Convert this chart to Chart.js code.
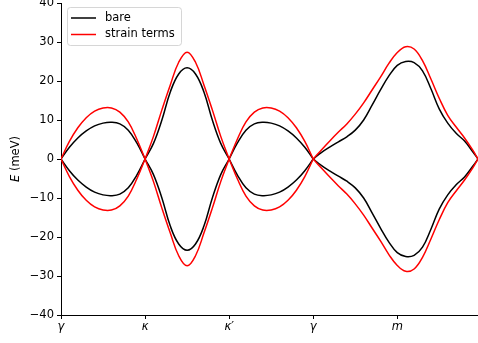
<!DOCTYPE html>
<html>
<head>
<meta charset="utf-8">
<script src="https://cdn.jsdelivr.net/npm/chart.js@4.4.0/dist/chart.umd.min.js"></script>
<style>
  html, body { margin: 0; padding: 0; background: #fff; }
  canvas { display: block; }
</style>
</head>
<body>
<canvas id="bands" width="478" height="343"></canvas>
<script>
// path coordinate along gamma - kappa - kappa' - gamma - m
const kPath = [
    0, 0.1, 0.2, 0.3, 0.4, 0.5, 0.6, 0.7, 0.8, 0.9, 1.0,
    1.1, 1.2, 1.3, 1.4, 1.5, 1.6, 1.7, 1.8, 1.9, 2.0,
    2.1, 2.2, 2.3, 2.4, 2.5, 2.6, 2.7, 2.8, 2.9, 3.0,
    3.1, 3.2, 3.3, 3.4, 3.5, 3.6, 3.7, 3.8, 3.9, 4.0,
    4.1, 4.2, 4.3, 4.4, 4.5, 4.6, 4.7, 4.8, 4.9, 4.96
];

// bands in meV
const bareUpper = [
    0, 3.0, 5.4, 7.2, 8.5, 9.2, 9.4, 9.0, 7.4, 4.2, 0,
    4.0, 10.0, 17.2, 21.8, 23.4, 21.8, 17.2, 10.0, 4.0, 0,
    4.2, 7.4, 9.0, 9.4, 9.2, 8.5, 7.2, 5.4, 3.0, 0,
    1.7, 3.1, 4.4, 5.7, 7.4, 10.0, 13.8, 17.7, 21.3, 24.0,
    25.0, 24.7, 22.6, 18.0, 12.8, 9.2, 6.6, 4.6, 1.8, 0
];
const bareLower = [
    0, -3.0, -5.4, -7.2, -8.5, -9.2, -9.4, -9.0, -7.4, -4.2, 0,
    -4.0, -10.0, -17.2, -21.8, -23.4, -21.8, -17.2, -10.0, -4.0, 0,
    -4.2, -7.4, -9.0, -9.4, -9.2, -8.5, -7.2, -5.4, -3.0, 0,
    -1.7, -3.1, -4.4, -5.7, -7.4, -10.0, -13.8, -17.7, -21.3, -24.0,
    -25.0, -24.7, -22.6, -18.0, -12.8, -9.2, -6.6, -4.6, -1.8, 0
];
const strainUpper = [
    0, 4.5, 8.0, 10.6, 12.3, 13.1, 13.1, 12.0, 9.5, 5.2, 0,
    5.8, 12.6, 19.0, 24.8, 27.4, 24.8, 19.0, 12.6, 5.8, 0,
    5.2, 9.5, 12.0, 13.1, 13.1, 12.3, 10.6, 8.0, 4.5, 0,
    2.4, 4.7, 6.9, 9.0, 11.5, 14.4, 17.7, 21.0, 24.5, 27.3,
    28.8, 28.2, 25.2, 20.5, 15.5, 11.2, 8.2, 5.4, 2.2, 0
];
const strainLower = [
    0, -4.5, -8.0, -10.6, -12.3, -13.1, -13.1, -12.0, -9.5, -5.2, 0,
    -5.8, -12.6, -19.0, -24.8, -27.4, -24.8, -19.0, -12.6, -5.8, 0,
    -5.2, -9.5, -12.0, -13.1, -13.1, -12.3, -10.6, -8.0, -4.5, 0,
    -2.4, -4.7, -6.9, -9.0, -11.5, -14.4, -17.7, -21.0, -24.5, -27.3,
    -28.8, -28.2, -25.2, -20.5, -15.5, -11.2, -8.2, -5.4, -2.2, 0
];

// high symmetry points
const tickPos = [0, 1, 2, 3, 4];
const tickLabels = ['\u03b3', '\u03ba', '\u03ba\u2032', '\u03b3', 'm'];
const yTicks = [-40, -30, -20, -10, 0, 10, 20, 30, 40];

const FONT = "'DejaVu Sans'";

// split each band at the nodes so the crossings stay sharp
function segments(values, color, label, order) {
    let out = [];
    for (let s = 0; s < tickPos.length - 1; s++) {
        let lo = tickPos[s], hi = s === tickPos.length - 2 ? Infinity : tickPos[s + 1];
        let pts = [];
        kPath.forEach((k, i) => {
            if (k >= lo - 1e-9 && k <= hi + 1e-9) pts.push({x: k, y: values[i]});
        });
        out.push({
            label: label,
            data: pts,
            borderColor: color,
            borderWidth: 1.5,
            pointRadius: 0,
            fill: false,
            tension: 0.4,
            order: order
        });
    }
    return out;
}

const datasets = [].concat(
    segments(bareUpper, '#000000', 'bare', 1),
    segments(bareLower, '#000000', 'bare', 1),
    segments(strainUpper, '#ff0000', 'strain terms', 0),
    segments(strainLower, '#ff0000', 'strain terms', 0)
);

// legend box + y title drawn like matplotlib
const decorPlugin = {
    id: 'decor',
    afterDraw(chart) {
        const ctx = chart.ctx;
        const area = chart.chartArea;
        ctx.save();

        // y axis title with italic E
        ctx.translate(16, (area.top + area.bottom) / 2);
        ctx.rotate(-Math.PI / 2);
        ctx.fillStyle = '#000';
        ctx.textBaseline = 'middle';
        ctx.font = 'italic 11.5px ' + FONT;
        let w1 = ctx.measureText('E').width;
        ctx.font = '11.5px ' + FONT;
        let w2 = ctx.measureText(' (meV)').width;
        let x0 = -(w1 + w2) / 2;
        ctx.font = 'italic 11.5px ' + FONT;
        ctx.textAlign = 'left';
        ctx.fillText('E', x0, 0);
        ctx.font = '11.5px ' + FONT;
        ctx.fillText(' (meV)', x0 + w1, 0);
        ctx.restore();

        // legend
        ctx.save();
        const bx = 67.5, by = 7.5, bw = 114, bh = 38, r = 3;
        ctx.beginPath();
        ctx.moveTo(bx + r, by);
        ctx.arcTo(bx + bw, by, bx + bw, by + bh, r);
        ctx.arcTo(bx + bw, by + bh, bx, by + bh, r);
        ctx.arcTo(bx, by + bh, bx, by, r);
        ctx.arcTo(bx, by, bx + bw, by, r);
        ctx.closePath();
        ctx.fillStyle = 'rgba(255,255,255,0.8)';
        ctx.fill();
        ctx.strokeStyle = 'rgba(204,204,204,0.8)';
        ctx.lineWidth = 1;
        ctx.stroke();

        const entries = [['bare', '#000000', 18], ['strain terms', '#ff0000', 34.5]];
        entries.forEach(e => {
            ctx.beginPath();
            ctx.moveTo(71, e[2]);
            ctx.lineTo(96, e[2]);
            ctx.strokeStyle = e[1];
            ctx.lineWidth = 1.5;
            ctx.stroke();
            ctx.fillStyle = '#000';
            ctx.font = '11.5px ' + FONT;
            ctx.textAlign = 'left';
            ctx.textBaseline = 'middle';
            ctx.fillText(e[0], 105, e[2]);
        });
        ctx.restore();
    }
};

new Chart(document.getElementById('bands').getContext('2d'), {
    type: 'line',
    data: { datasets: datasets },
    options: {
        responsive: false,
        animation: false,
        layout: { padding: { left: 0, right: 0, top: 3, bottom: 0 } },
        plugins: {
            legend: { display: false },
            tooltip: { enabled: false }
        },
        scales: {
            x: {
                type: 'linear',
                min: 0,
                max: 4.96,
                afterBuildTicks: s => { s.ticks = tickPos.map(v => ({value: v})); },
                afterFit: s => { s.height = 28; s.paddingLeft = 0; s.paddingRight = 0; },
                grid: { drawOnChartArea: false, drawTicks: true, tickLength: 4, tickColor: '#000' },
                border: { display: true, color: '#000', width: 1 },
                ticks: {
                    autoSkip: false,
                    maxRotation: 0,
                    padding: 1,
                    color: '#000',
                    font: { family: FONT, size: 11.5, style: 'italic' },
                    callback: (v, i) => tickLabels[i]
                }
            },
            y: {
                min: -40,
                max: 40,
                afterBuildTicks: s => { s.ticks = yTicks.map(v => ({value: v})); },
                afterFit: s => { s.width = 61; s.paddingTop = 0; s.paddingBottom = 0; },
                grid: { drawOnChartArea: false, drawTicks: true, tickLength: 4, tickColor: '#000' },
                border: { display: true, color: '#000', width: 1 },
                ticks: {
                    padding: 3,
                    color: '#000',
                    font: { family: FONT, size: 11.5 },
                    callback: v => v < 0 ? '\u2212' + Math.abs(v) : String(v)
                }
            }
        }
    },
    plugins: [decorPlugin]
});
</script>
</body>
</html>
